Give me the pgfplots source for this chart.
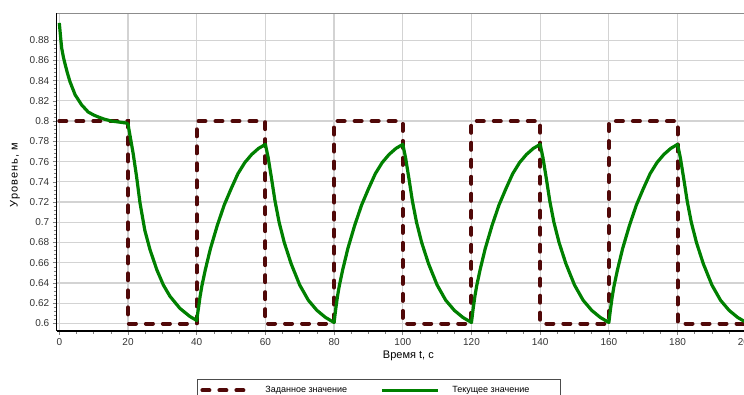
\documentclass[border=0pt]{standalone}
\usepackage{pgfplots}
\pgfplotsset{compat=1.18}
\usepackage{fontspec}
\setmainfont{Liberation Sans}
\definecolor{setc}{RGB}{80,8,8}
\definecolor{curc}{RGB}{0,128,0}
\definecolor{gridc}{RGB}{211,211,211}
\pgfplotsset{
  shortleg/.style={legend image code/.code={\draw[##1] (0pt,0pt) -- (48pt,0pt);}},
  longleg/.style={legend image code/.code={\draw[##1] (0pt,0pt) -- (56pt,0pt);}},
}
\begin{document}
\fontsize{10}{12}\selectfont
\begin{tikzpicture}
\useasboundingbox (0,0) rectangle (744pt,394pt);
\clip (0,0) rectangle (744pt,394pt);
\begin{axis}[
  at={(56.7pt,63.3pt)}, anchor=south west,
  scale only axis, width=703.3pt, height=317.4pt,
  xmin=-0.76, xmax=204, ymin=0.5929, ymax=0.9065,
  axis x line*=bottom, axis y line*=left,
  axis line style={black, line width=1.6pt, -},
  xtick={0,20,40,60,80,100,120,140,160,180,200},
  ytick={0.6,0.62,0.64,0.66,0.68,0.7,0.72,0.74,0.76,0.78,0.8,0.82,0.84,0.86,0.88},
  minor x tick num=3, minor y tick num=4,
  tick align=outside, major tick length=4pt, minor tick length=3pt,
  every tick/.style={black!50, line width=0.6pt},
  grid=major, major grid style={gridc, line width=1.2pt},
  tick label style={font=\fontsize{10}{12}\selectfont, text=black!80},
  /pgf/number format/assume math mode=true,
  yticklabel style={/pgf/number format/fixed, /pgf/number format/precision=2},
  xlabel={Время t, с}, ylabel={Уровень, м},
  xlabel style={at={(axis description cs:0.5,-0.08)}, anchor=center, font=\fontsize{11}{13}\selectfont},
  ylabel style={at={(axis description cs:-0.0593,0.4906)}, anchor=center, font=\fontsize{11}{13}\selectfont\addfontfeature{LetterSpace=10}},
  legend columns=2,
  legend style={at={(0.1995,-0.152)}, anchor=north west, draw=black!70, line width=0.8pt,
    inner ysep=5pt, font=\fontsize{9}{11}\selectfont,
    /tikz/every odd column/.append style={column sep=11pt},
    /tikz/every even column/.append style={column sep=31pt}},
  extra description/.code={\draw[black!45, line width=1.5pt] (rel axis cs:0,1) -- (rel axis cs:1,1);},
]
\addplot[setc, line width=4pt, line cap=round, dash pattern=on 7pt off 10pt, shortleg] coordinates {
(0,0.8)(20,0.8)(20,0.6)(40,0.6)(40,0.8)(60,0.8)(60,0.6)(80,0.6)(80,0.8)(100,0.8)(100,0.6)
(120,0.6)(120,0.8)(140,0.8)(140,0.6)(160,0.6)(160,0.8)(180,0.8)(180,0.6)(200,0.6)};
\addlegendentry{Заданное значение}
\addplot[curc, line width=3.2pt, line join=round, longleg] coordinates {
(0,0.897)(0.4,0.882)(0.7,0.872)(1.2,0.863)(1.7,0.856)(2.4,0.847)(3.1,0.839)(4.6,0.826)(6.5,0.816)(8.4,0.809)(10,0.806)(11.4,0.804)(13,0.802)(15.2,0.800)(17.5,0.799)(19.6,0.798)(20,0.797)
(21.5,0.768)(22.5,0.745)(23.5,0.719)(24.9,0.692)(26.4,0.673)(28.4,0.653)(30.3,0.638)(32.2,0.627)(35.1,0.615)(38.0,0.607)(40,0.603)
(40.5,0.615)(41,0.627)(41.5,0.637)(42.5,0.653)(44,0.674)(46,0.697)(48,0.717)(50,0.733)(52,0.748)(54,0.759)(56,0.767)(58,0.773)(60,0.777)
(60.8,0.764)(61.8,0.743)(62.8,0.721)(64,0.700)(65.5,0.680)(67.5,0.659)(70,0.638)(72.5,0.623)(75,0.613)(77.5,0.606)(80,0.601)
(80.5,0.615)(81,0.627)(81.5,0.637)(82.5,0.653)(84,0.674)(86,0.697)(88,0.717)(90,0.733)(92,0.748)(94,0.759)(96,0.767)(98,0.773)(100,0.777)
(100.8,0.764)(101.8,0.743)(102.8,0.721)(104,0.700)(105.5,0.680)(107.5,0.659)(110,0.638)(112.5,0.623)(115,0.613)(117.5,0.606)(120,0.601)
(120.5,0.615)(121,0.627)(121.5,0.637)(122.5,0.653)(124,0.674)(126,0.697)(128,0.717)(130,0.733)(132,0.748)(134,0.759)(136,0.767)(138,0.773)(140,0.777)
(140.8,0.764)(141.8,0.743)(142.8,0.721)(144,0.700)(145.5,0.680)(147.5,0.659)(150,0.638)(152.5,0.623)(155,0.613)(157.5,0.606)(160,0.601)
(160.5,0.615)(161,0.627)(161.5,0.637)(162.5,0.653)(164,0.674)(166,0.697)(168,0.717)(170,0.733)(172,0.748)(174,0.759)(176,0.767)(178,0.773)(180,0.777)
(180.8,0.764)(181.8,0.743)(182.8,0.721)(184,0.700)(185.5,0.680)(187.5,0.659)(190,0.638)(192.5,0.623)(195,0.613)(197.5,0.606)(200,0.601)};
\addlegendentry{Текущее значение\rule{26pt}{0pt}}
\end{axis}
\end{tikzpicture}
\end{document}
